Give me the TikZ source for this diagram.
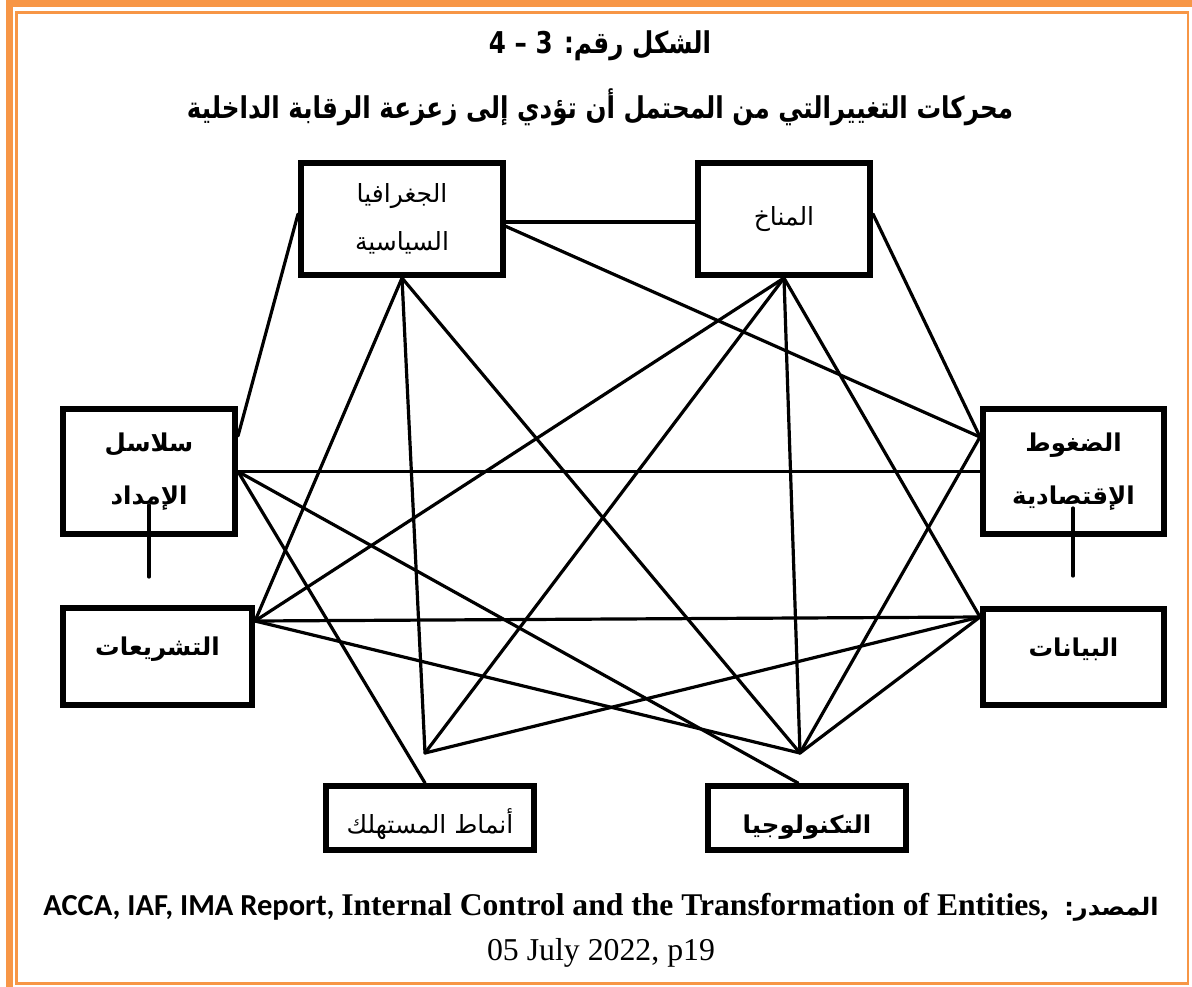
\documentclass[tikz,border=0pt]{standalone}
\usepackage{fontspec}
\TeXXeTstate=1
\setmainfont{Liberation Serif}
\newfontfamily\arabicfont[Script=Arabic]{DejaVu Sans}
\newfontfamily\arabictitle[Script=Arabic,FakeStretch=0.82]{DejaVu Sans}
\newfontfamily\calibrifont{Carlito}
\definecolor{frameorange}{HTML}{F79646}

\begin{document}
\begin{tikzpicture}[x=1bp,y=-1bp,
  box/.style={draw,line width=6bp,rectangle,inner sep=0pt,align=center},
  link/.style={line width=3.2bp,line cap=round},
  arlabel/.style={font=\fontsize{25bp}{48bp}\selectfont\arabicfont},
  arbold/.style={font=\fontsize{24.5bp}{53bp}\selectfont\arabicfont\bfseries},
  raised/.style={text height=20bp,text depth=22bp},
  lowered/.style={text height=32bp,text depth=2bp},
  titletext/.style={font=\fontsize{30bp}{34bp}\selectfont\arabictitle\bfseries}]

% page and orange frame
\useasboundingbox (0,0) rectangle (1192,987);
\fill[white] (0,0) rectangle (1192,987);
\fill[frameorange] (6,0) rectangle (13,987);
\fill[frameorange] (6,0) rectangle (1192,7);
\draw[frameorange,line width=2.5bp] (16.5,12.5) rectangle (1188,983.5);

% title
\node[titletext] (t1) at (600,46)
  {\beginR الشكل رقم: 3 – 4\endR};
\node[titletext] (t2) at (600,107)
  {\beginR محركات التغييرالتي من المحتمل أن تؤدي إلى زعزعة الرقابة الداخلية\endR};

% driver boxes
\node[box,arlabel,minimum width=202bp,minimum height=112bp] (geo) at (402,219)
  {\beginR الجغرافيا\endR\\\beginR السياسية\endR};
\node[box,arlabel,minimum width=172bp,minimum height=112bp] (man) at (784,219)
  {\beginR المناخ\endR};
\node[box,arbold,minimum width=172bp,minimum height=125bp] (sup) at (149,471.5)
  {\beginR سلاسل\endR\\\beginR الإمداد\endR};
\node[box,arbold,minimum width=181bp,minimum height=125bp] (eco) at (1073.5,471.5)
  {\beginR الضغوط\endR\\\beginR الإقتصادية\endR};
\node[box,arbold,raised,minimum width=189bp,minimum height=97bp] (leg) at (157.5,656.5)
  {\beginR التشريعات\endR};
\node[box,arbold,raised,minimum width=181bp,minimum height=96bp] (dat) at (1073.5,657)
  {\beginR البيانات\endR};
\node[box,arlabel,lowered,minimum width=208bp,minimum height=64bp] (con) at (430,818)
  {\beginR أنماط المستهلك\endR};
\node[box,arbold,lowered,minimum width=198bp,minimum height=64bp] (tec) at (807,818)
  {\beginR التكنولوجيا\endR};

% attachment points on the box borders and free junctions
\coordinate (geoL) at (298,214);
\coordinate (supT) at (238,436);
\coordinate (geoR1) at (505,222);
\coordinate (manL) at (695,222);
\coordinate (geoR2) at (505,226);
\coordinate (manR) at (873,214);
\coordinate (ecoA) at (980,437);
\coordinate (legP) at (255,621);
\coordinate (datP) at (980,617);
\coordinate (ptA) at (425,753);
\coordinate (ptB) at (800,753);
\coordinate (conT) at (425,783);
\coordinate (tecT) at (798,783);
\coordinate (supTick) at (149,505);
\coordinate (supTickEnd) at (149,577);
\coordinate (ecoTick) at (1073,508);
\coordinate (ecoTickEnd) at (1073,576);

% links
\draw[link] (geoL) -- (supT);
\draw[link] (geoR1) -- (manL);
\draw[link] (geoR2) -- (ecoA);
\draw[link] (geo.south) -- (legP);
\draw[link] (geo.south) -- (ptA);
\draw[link] (geo.south) -- (ptB);
\draw[link] (man.south) -- (legP);
\draw[link] (man.south) -- (ptA);
\draw[link] (man.south) -- (ptB);
\draw[link] (man.south) -- (datP);
\draw[link] (manR) -- (ecoA);
\draw[link] (sup.east) -- (eco.west);
\draw[link] (sup.east) -- (conT);
\draw[link] (sup.east) -- (tecT);
\draw[link] (legP) -- (datP);
\draw[link] (legP) -- (ptB);
\draw[link] (ptA) -- (datP);
\draw[link] (ptB) -- (ecoA);
\draw[link] (ptB) -- (datP);
\draw[link] (supTick) -- (supTickEnd);
\draw[link] (ecoTick) -- (ecoTickEnd);

% source note
\node[anchor=base] (src1) at (601,915)
  {{\calibrifont\bfseries\fontsize{30.5bp}{32bp}\selectfont ACCA, IAF, IMA Report, }%
   {\bfseries\fontsize{31.6bp}{32bp}\selectfont Internal Control and the Transformation of Entities,\ \ }%
   {\arabicfont\bfseries\fontsize{24bp}{32bp}\selectfont\beginR المصدر:\endR}};
\node[anchor=base,font=\fontsize{31.8bp}{32bp}\selectfont] (src2) at (601,960)
  {05 July 2022, p19};
\end{tikzpicture}
\end{document}
